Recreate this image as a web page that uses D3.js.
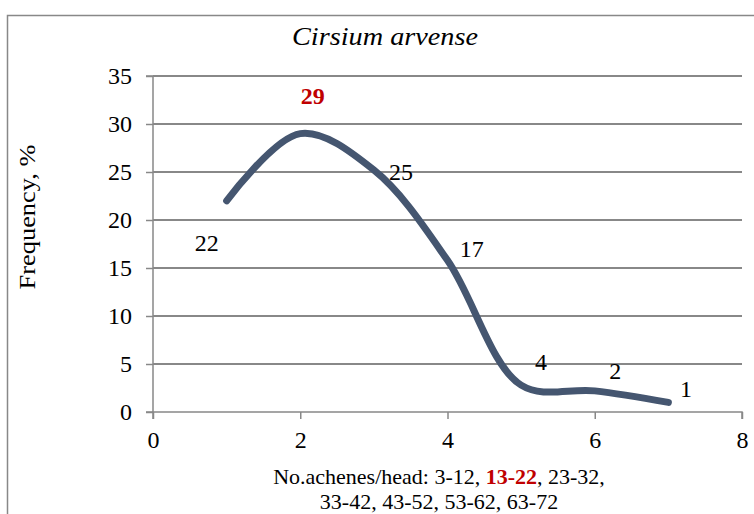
<!DOCTYPE html>
<html>
<head>
<meta charset="utf-8">
<script src="https://cdn.jsdelivr.net/npm/d3@7"></script>
<style>
  body { margin: 0; background: #fff; }
  text { font-family: "Liberation Serif", "Times New Roman", serif; }
</style>
</head>
<body>
<svg width="754" height="514"></svg>
<script>
// data
var xs = [1, 2, 3, 4, 5, 6, 7];
var freq = [22, 29, 25.2, 15.8, 2.8, 2.2, 1];
// annotation labels and where they sit (data units)
var labels = ["22", "29", "25", "17", "4", "2", "1"];
var labelX = [0.73, 2.17, 3.37, 4.33, 5.27, 6.28, 7.24];
var labelY = [17.6, 33, 25, 17, 5.2, 4.3, 2.4];
var highlight = 1;
var yTicks = [0, 5, 10, 15, 20, 25, 30, 35];
var xTicks = [0, 2, 4, 6, 8];

var svg = d3.select("svg");
var plotL = 153, plotR = 742, plotT = 76, plotB = 412;

svg.append("rect")
  .attr("x", 7.5).attr("y", 15.5)
  .attr("width", 800).attr("height", 600)
  .style("fill", "none").style("stroke", "#888").style("stroke-width", 1.5);

var xScale = d3.scaleLinear().domain([0, 8]).range([plotL, plotR]);
var yScale = d3.scaleLinear().domain([0, 35]).range([plotB, plotT]);

// gridlines
svg.append("g").selectAll("line")
  .data(yTicks.filter((d) => d > 0))
  .enter().append("line")
  .attr("x1", plotL).attr("x2", plotR)
  .attr("y1", (d) => yScale(d)).attr("y2", (d) => yScale(d))
  .style("stroke", "#888").style("stroke-width", 2);

var yAxis = svg.append("g")
  .attr("transform", "translate(" + plotL + ",0)")
  .call(d3.axisLeft(yScale).tickValues(yTicks).tickSize(7).tickPadding(14));
var xAxis = svg.append("g")
  .attr("transform", "translate(0," + plotB + ")")
  .call(d3.axisBottom(xScale).tickValues(xTicks).tickSize(7).tickPadding(12));

[yAxis, xAxis].forEach(function (a) {
  a.attr("font-family", null);
  a.select(".domain").style("stroke", "#888").style("stroke-width", 1.5);
  a.selectAll(".tick line").style("stroke", "#888").style("stroke-width", 1.5);
  a.selectAll("text")
    .style("font-size", "24px")
    .style("fill", "#000");
});
xAxis.select(".domain").attr("d", "M" + plotL + ",7V0H" + plotR + "V7");
yAxis.select(".domain").attr("d", "M-7," + plotT + "H0V" + plotB + "H-7");

var line = d3.line()
  .x((d, i) => xScale(xs[i]))
  .y((d) => yScale(d))
  .curve(d3.curveCatmullRom.alpha(0.5));

svg.append("path")
  .datum(freq)
  .attr("d", line)
  .style("fill", "none")
  .style("stroke", "#455670")
  .style("stroke-width", 7)
  .style("stroke-linecap", "round");

svg.append("g").selectAll("text")
  .data(labels)
  .enter().append("text")
  .attr("x", (d, i) => xScale(labelX[i]))
  .attr("y", (d, i) => yScale(labelY[i]))
  .attr("dy", "0.35em")
  .attr("text-anchor", "middle")
  .style("font-size", "24px")
  .style("font-weight", (d, i) => (i === highlight ? "bold" : "normal"))
  .style("fill", (d, i) => (i === highlight ? "#C00000" : "#000"))
  .text((d) => d);

svg.append("text")
  .attr("x", 385).attr("y", 45)
  .attr("text-anchor", "middle")
  .attr("textLength", 186)
  .attr("lengthAdjust", "spacingAndGlyphs")
  .style("font-size", "25px")
  .style("font-style", "italic")
  .text("Cirsium arvense");

svg.append("text")
  .attr("text-anchor", "middle")
  .attr("transform", "translate(35,217)rotate(-90)")
  .attr("textLength", 145)
  .attr("lengthAdjust", "spacingAndGlyphs")
  .style("font-size", "23px")
  .text("Frequency,  %");

var xt = svg.append("text")
  .attr("x", 439).attr("y", 484)
  .attr("text-anchor", "middle")
  .style("font-size", "22px");
xt.append("tspan").text("No.achenes/head: 3-12, ");
xt.append("tspan").style("fill", "#C00000").style("font-weight", "bold").text("13-22");
xt.append("tspan").text(", 23-32,");

svg.append("text")
  .attr("x", 439).attr("y", 509)
  .attr("text-anchor", "middle")
  .style("font-size", "22px")
  .text("33-42, 43-52, 53-62, 63-72");
</script>
</body>
</html>
